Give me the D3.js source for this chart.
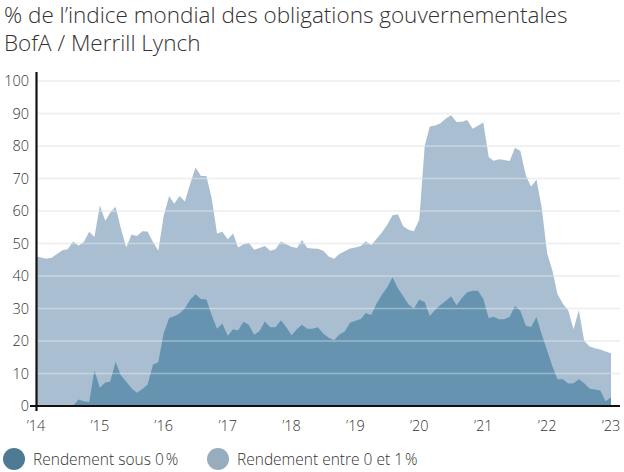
<!DOCTYPE html>
<html>
<head>
<meta charset="utf-8">
<script src="https://cdn.jsdelivr.net/npm/d3@7"></script>
<style>
  body { margin: 0; background: #fff; }
  text { font-family: "Open Sans", Lato, sans-serif; font-weight: 300; fill: #333; }
</style>
</head>
<body>
<script>
// monthly values, Jan 2014 .. Jan 2023
var startMonth = new Date(2014, 0, 1);
var sousZero = [0,0,0,0,0,0,0,0,2.0,1.5,1.2,10.9,5.6,7.2,7.5,13.6,9.5,7.5,5.5,4.1,5.2,6.6,12.8,13.5,
  22.5,27.1,27.6,28.5,30.1,32.8,34.4,32.9,32.8,28,23.8,25.4,21.6,23.6,23.2,25.9,25,21.9,23,26,24.2,24.2,26.4,24.3,
  21.8,23.7,25.0,23.8,23.8,24.2,22.3,21,20.2,22,22.9,25.6,26.2,26.8,28.6,28.0,31.5,34.2,36.5,39.6,36.2,33.8,31.2,30,
  32.7,32.0,27.7,29.6,31.1,32.4,33.8,31,33.2,35,35.5,35.5,33,27,27.5,26.7,26.7,27.5,30.8,29.3,24.7,24.3,27.4,22.0,
  17.1,12.1,8.2,8.2,6.9,7.0,8.2,7.0,5.3,5.1,4.8,1.5,2.7];
var entre0et1 = [46,45.7,45.3,45.6,46.8,47.9,48.2,50.6,49.3,50.5,53.6,52.0,61.7,57.0,59.5,61.3,54.7,48.8,52.8,52.3,53.8,53.7,50.5,47.8,
  58.5,64.6,62.2,64.6,62.9,68.5,73.4,70.8,70.8,64,53.1,53.6,51.3,53.1,48.8,49.8,50.2,48.1,48.6,49.2,47.8,48.2,50.6,49.8,
  49.0,48.6,51.1,48.6,48.5,48.4,47.8,46,45.3,46.8,47.6,48.5,48.8,49.2,50.7,49.5,51.4,53.4,55.7,58.7,59.0,55.3,54.2,53.8,
  57.4,80,86.0,86.3,87.0,88.5,89.5,87.4,87.5,88.0,85.3,86.2,87.2,76.6,75.5,75.9,75.7,75.4,79.5,78.5,71,67.5,69.7,61,
  47.0,41.5,34.5,31.5,29.5,23.6,29.5,20,18.3,17.8,17.4,16.8,16.2];
var yTicks = [0,10,20,30,40,50,60,70,80,90,100];
var xTickYears = [2014,2015,2016,2017,2018,2019,2020,2021,2022,2023];
var legendLabels = ["Rendement sous 0\u202f%", "Rendement entre 0 et 1\u202f%"];

var W = 624, H = 472;
var svg = d3.select("body").append("svg").attr("width", W).attr("height", H);

var dates = sousZero.map(function(d, i) { return d3.timeMonth.offset(startMonth, i); });

var x = d3.scaleTime().domain([new Date(2014,0,1), new Date(2023,0,1)]).range([36, 611]);
var y = d3.scaleLinear().domain([0, 100]).range([406, 81]);

// title
svg.append("text").attr("x", 4).attr("y", 23).attr("font-size", 22.5)
  .text("% de l\u2019indice mondial des obligations gouvernementales");
svg.append("text").attr("x", 4).attr("y", 51).attr("font-size", 22.5)
  .text("BofA / Merrill Lynch");

// grid
svg.append("g").selectAll("line").data(yTicks.slice(1)).enter().append("line")
  .attr("x1", 38).attr("x2", 620)
  .attr("y1", function(d) { return y(d); }).attr("y2", function(d) { return y(d); })
  .attr("stroke", "#e6e6e6").attr("stroke-width", 1.5);

var area = function(vals) {
  return d3.area()
    .x(function(d, i) { return x(dates[i]); })
    .y0(y(0))
    .y1(function(d) { return y(d); })(vals);
};

svg.append("path").attr("d", area(entre0et1)).attr("fill", "#a9bfd1");
svg.append("path").attr("d", area(sousZero)).attr("fill", "#6693b0");

// grid over areas (light lines visible on top)
svg.append("g").selectAll("line").data(yTicks.slice(1)).enter().append("line")
  .attr("x1", 38).attr("x2", 620)
  .attr("y1", function(d) { return y(d); }).attr("y2", function(d) { return y(d); })
  .attr("stroke", "#ffffff").attr("stroke-opacity", 0.35).attr("stroke-width", 1.5);

// y labels
svg.append("g").selectAll("text").data(yTicks).enter().append("text")
  .attr("x", 29).attr("y", function(d) { return y(d) + 5; })
  .attr("text-anchor", "end").attr("font-size", 14.5)
  .text(function(d) { return d; });

// axes lines
svg.append("line").attr("x1", 30).attr("x2", 620).attr("y1", y(0)).attr("y2", y(0))
  .attr("stroke", "#111").attr("stroke-width", 2.2);
svg.append("line").attr("x1", 36.5).attr("x2", 36.5).attr("y1", 72).attr("y2", 411)
  .attr("stroke", "#111").attr("stroke-width", 2.2);

// x labels
svg.append("g").selectAll("text").data(xTickYears).enter().append("text")
  .attr("x", function(d) { return x(new Date(d, 0, 1)); }).attr("y", 431)
  .attr("text-anchor", "middle").attr("font-size", 14.5)
  .text(function(d) { return "\u2019" + String(d).slice(2); });

// legend
var legendColors = ["#4f7a94", "#97adbd"];
var legendX = [14, 218];
legendLabels.forEach(function(l, i) {
  svg.append("circle").attr("cx", legendX[i]).attr("cy", 459).attr("r", 11).attr("fill", legendColors[i]);
  svg.append("text").attr("x", legendX[i] + 19).attr("y", 465).attr("font-size", 15.5).text(l);
});
</script>
</body>
</html>
